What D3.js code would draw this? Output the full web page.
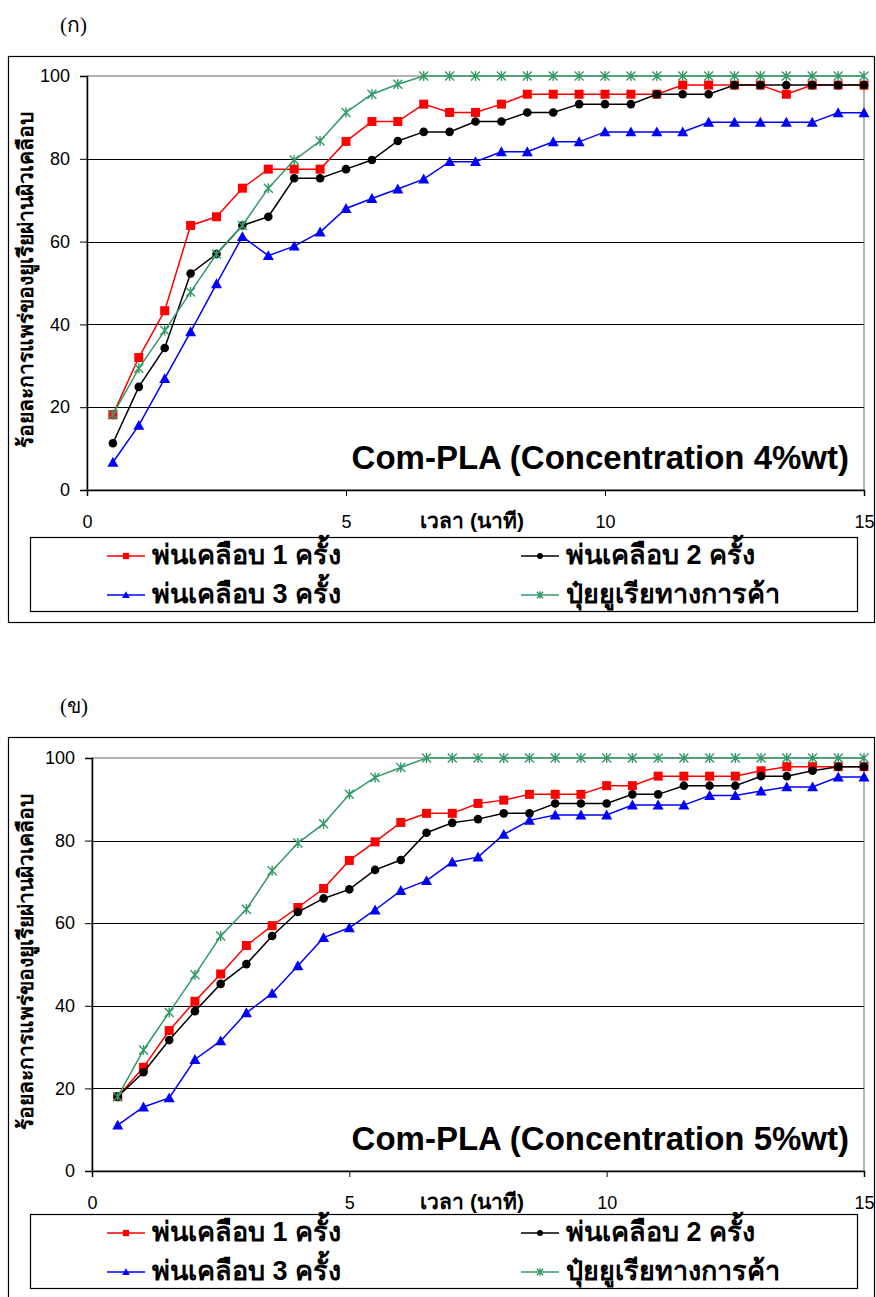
<!DOCTYPE html>
<html>
<head>
<meta charset="utf-8">
<script src="https://cdn.jsdelivr.net/npm/d3@7"></script>
<style>
  body { margin: 0; background: #fff; }
  svg { display: block; font-family: Arial, "Liberation Sans", sans-serif; }
</style>
</head>
<body>
<div id="app"></div>
<script>
// time (minutes)
const times = [0.5, 1, 1.5, 2, 2.5, 3, 3.5, 4, 4.5, 5, 5.5, 6, 6.5, 7, 7.5, 8, 8.5, 9, 9.5, 10,
               10.5, 11, 11.5, 12, 12.5, 13, 13.5, 14, 14.5, 15];

const seriesNames = ["พ่นเคลือบ 1 ครั้ง", "พ่นเคลือบ 2 ครั้ง", "พ่นเคลือบ 3 ครั้ง", "ปุ๋ยยูเรียทางการค้า"];

// (ก) 4%wt
const a_coat1 = [18.2, 32.0, 43.3, 63.9, 66.0, 72.9, 77.5, 77.5, 77.5, 84.2, 89.0, 89.0, 93.2, 91.2, 91.2,
                 93.2, 95.6, 95.6, 95.6, 95.6, 95.6, 95.6, 97.8, 97.8, 97.8, 97.8, 95.6, 97.8, 97.8, 97.8];
const a_coat2 = [11.3, 24.9, 34.3, 52.3, 57.0, 63.9, 66.0, 75.3, 75.3, 77.5, 79.7, 84.3, 86.5, 86.5, 89.0,
                 89.0, 91.2, 91.2, 93.2, 93.2, 93.2, 95.6, 95.6, 95.6, 97.8, 97.8, 97.8, 97.8, 97.8, 97.8];
const a_coat3 = [6.7, 15.6, 26.9, 38.2, 49.8, 61.2, 56.6, 58.9, 62.3, 68.0, 70.4, 72.7, 75.1, 79.3, 79.3,
                 81.7, 81.7, 84.1, 84.1, 86.5, 86.5, 86.5, 86.5, 88.8, 88.8, 88.8, 88.8, 88.8, 91.1, 91.1];
const a_commercial = [18.2, 29.4, 38.5, 47.8, 57.0, 63.9, 72.9, 79.7, 84.3, 91.2, 95.6, 98.0, 100, 100, 100,
                      100, 100, 100, 100, 100, 100, 100, 100, 100, 100, 100, 100, 100, 100, 100];

// (ข) 5%wt
const b_coat1 = [18.0, 25.1, 34.0, 41.1, 47.7, 54.6, 59.4, 63.8, 68.4, 75.2, 79.7, 84.4, 86.6, 86.6, 89.0,
                 89.8, 91.2, 91.2, 91.2, 93.3, 93.3, 95.6, 95.6, 95.6, 95.6, 96.9, 97.9, 97.9, 97.9, 97.9];
const b_coat2 = [18.0, 23.9, 31.7, 38.7, 45.3, 50.1, 56.9, 62.7, 66.0, 68.2, 72.9, 75.3, 81.9, 84.3, 85.2,
                 86.6, 86.6, 89.0, 89.0, 89.0, 91.2, 91.2, 93.3, 93.3, 93.3, 95.6, 95.6, 96.9, 97.9, 97.9];
const b_coat3 = [11.1, 15.5, 17.7, 27.0, 31.5, 38.3, 43.0, 49.7, 56.5, 58.9, 63.2, 67.9, 70.3, 74.8, 76.0,
                 81.5, 84.9, 86.2, 86.2, 86.2, 88.6, 88.6, 88.6, 90.9, 90.9, 92.0, 93.0, 93.0, 95.4, 95.4];
const b_commercial = [18.0, 29.3, 38.4, 47.5, 56.9, 63.4, 72.7, 79.4, 84.1, 91.2, 95.3, 97.7, 100, 100, 100,
                      100, 100, 100, 100, 100, 100, 100, 100, 100, 100, 100, 100, 100, 100, 100];

const xTicks = [0, 5, 10, 15];
const yTicks = [0, 20, 40, 60, 80, 100];

const colors = ["#ff0000", "#000000", "#0000ff", "#339966"];
const markers = ["square", "circle", "triangle", "star"];

const svg = d3.select("#app").append("svg")
    .attr("width", 876)
    .attr("height", 1297);

function drawMarker(g, type, color, cx, cy, scale) {
    scale = scale || 1;
    if (type === "square") {
        const s = 9 * scale;
        g.append("rect").attr("x", cx - s / 2).attr("y", cy - s / 2)
            .attr("width", s).attr("height", s).attr("fill", color);
    } else if (type === "circle") {
        g.append("circle").attr("cx", cx).attr("cy", cy).attr("r", 4.3 * scale).attr("fill", color);
    } else if (type === "triangle") {
        const s = 5.5 * scale;
        g.append("path")
            .attr("d", `M${cx},${cy - s}L${cx + s},${cy + s * 0.8}L${cx - s},${cy + s * 0.8}Z`)
            .attr("fill", color);
    } else {
        const s = 4.5 * scale;
        g.append("path")
            .attr("d", `M${cx - s},${cy - s}L${cx + s},${cy + s}M${cx - s},${cy + s}L${cx + s},${cy - s}M${cx},${cy - s - 0.5}L${cx},${cy + s + 0.5}`)
            .attr("stroke", color).attr("stroke-width", 1.4).attr("fill", "none");
    }
}

function drawChart(opt) {
    const g = svg.append("g");

    // outer frame
    g.append("rect")
        .attr("x", opt.frame[0] + 0.5).attr("y", opt.frame[1] + 0.5)
        .attr("width", opt.frame[2]).attr("height", opt.frame[3])
        .attr("fill", "none").attr("stroke", "#000").attr("stroke-width", 1.2);

    g.append("text")
        .attr("x", 60).attr("y", opt.labelY)
        .attr("font-family", "'Liberation Serif', serif")
        .attr("font-size", 21)
        .text(opt.label);

    const x = d3.scaleLinear().domain([0, 15]).range([opt.plot.left, opt.plot.right]);
    const y = d3.scaleLinear().domain([0, 100]).range([opt.plot.bottom, opt.plot.top]);

    // plot area border
    g.append("rect")
        .attr("x", x(0)).attr("y", y(100))
        .attr("width", x(15) - x(0)).attr("height", y(0) - y(100))
        .attr("fill", "none").attr("stroke", "#999").attr("stroke-width", 1.5);

    // gridlines
    g.append("g").selectAll("line")
        .data(yTicks.filter(d => d > 0 && d < 100))
        .enter().append("line")
            .attr("x1", x(0)).attr("x2", x(15))
            .attr("y1", d => Math.round(y(d)) + 0.5).attr("y2", d => Math.round(y(d)) + 0.5)
            .attr("stroke", "#000").attr("stroke-width", 1);

    const yAxis = g.append("g")
        .attr("transform", `translate(${x(0)},0)`)
        .call(d3.axisLeft(y).tickValues(yTicks).tickSize(7).tickPadding(10));
    const xAxis = g.append("g")
        .attr("transform", `translate(0,${y(0)})`)
        .call(d3.axisBottom(x).tickValues(xTicks).tickSize(6).tickPadding(19));
    [yAxis, xAxis].forEach(ax => {
        ax.select(".domain").attr("stroke", "#000").attr("stroke-width", 1.5);
        ax.selectAll(".tick line").attr("stroke", "#000");
        ax.selectAll("text").attr("font-size", 18).attr("fill", "#000")
            .attr("font-family", "Arial, 'Liberation Sans', sans-serif");
    });

    // axis titles
    g.append("text")
        .attr("x", 472).attr("y", y(0) + 38)
        .attr("text-anchor", "middle")
        .attr("font-size", 21).attr("font-weight", "bold")
        .text("เวลา (นาที)");
    g.append("text")
        .attr("transform", `translate(33,${(y(0) + y(100)) / 2 - 3}) rotate(-90)`)
        .attr("text-anchor", "middle")
        .attr("font-size", 21).attr("font-weight", "bold")
        .text("ร้อยละการแพร่ของยูเรียผ่านผิวเคลือบ");

    // title inside plot
    g.append("text")
        .attr("x", 849).attr("y", y(0) - 21)
        .attr("text-anchor", "end")
        .attr("font-size", 33).attr("font-weight", "bold")
        .text(opt.title);

    // series
    const line = d3.line().x(d => x(d[0])).y(d => y(d[1]));
    opt.series.forEach((vals, i) => {
        const pts = times.map((t, j) => [t, vals[j]]);
        g.append("path")
            .datum(pts)
            .attr("d", line)
            .attr("fill", "none")
            .attr("stroke", colors[i])
            .attr("stroke-width", 1.5);
        const mg = g.append("g");
        pts.forEach(p => drawMarker(mg, markers[i], colors[i], x(p[0]), y(p[1])));
    });

    // legend
    const lg = g.append("g");
    lg.append("rect")
        .attr("x", 30.5).attr("y", opt.legendY + 0.5)
        .attr("width", 827).attr("height", 74)
        .attr("fill", "#fff").attr("stroke", "#000").attr("stroke-width", 1.2);
    seriesNames.forEach((name, i) => {
        const col = i % 2, row = Math.floor(i / 2);
        const lx = col === 0 ? 107 : 521;
        const ly = opt.legendY + 19 + row * 39;
        lg.append("line")
            .attr("x1", lx).attr("x2", lx + 38)
            .attr("y1", ly).attr("y2", ly)
            .attr("stroke", colors[i]).attr("stroke-width", 1.5);
        drawMarker(lg, markers[i], colors[i], lx + 19, ly, 0.7);
        lg.append("text")
            .attr("x", lx + 45).attr("y", ly + 8)
            .attr("font-size", 27).attr("font-weight", "bold")
            .text(name);
    });
}

drawChart({
    label: "(ก)", labelY: 32,
    frame: [8, 56, 866, 566],
    plot: { left: 87, right: 864, top: 76, bottom: 490 },
    title: "Com-PLA (Concentration 4%wt)",
    series: [a_coat1, a_coat2, a_coat3, a_commercial],
    legendY: 537
});

drawChart({
    label: "(ข)", labelY: 713,
    frame: [8, 737, 866, 600],
    plot: { left: 92, right: 864, top: 758, bottom: 1171 },
    title: "Com-PLA (Concentration 5%wt)",
    series: [b_coat1, b_coat2, b_coat3, b_commercial],
    legendY: 1214
});
</script>
</body>
</html>
